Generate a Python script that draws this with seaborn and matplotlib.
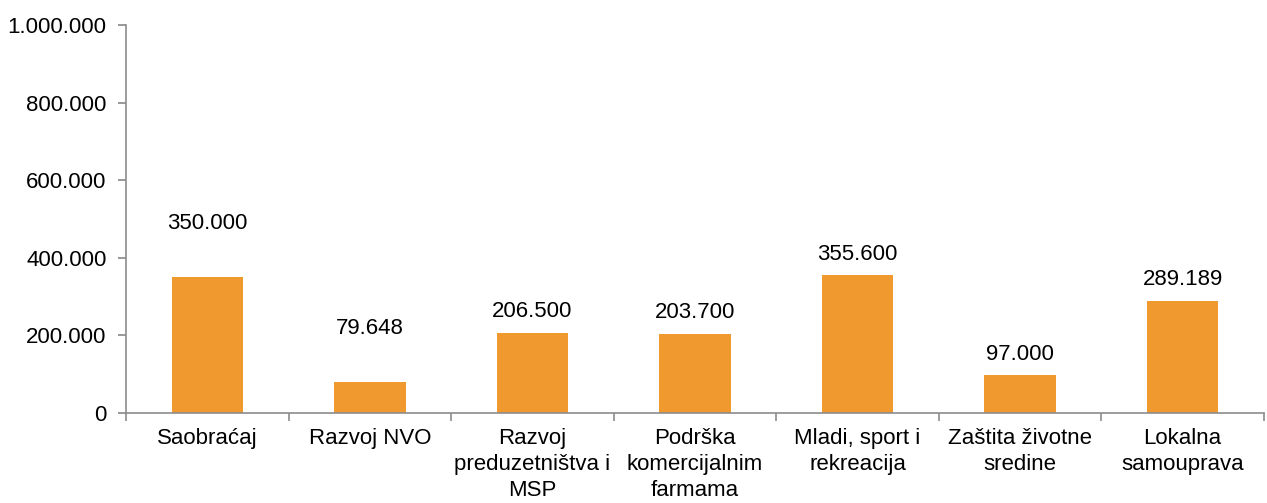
import matplotlib
matplotlib.use("Agg")
import matplotlib.pyplot as plt
import matplotlib.ticker as mticker
import seaborn as sns
import pandas as pd

categories = ["Saobraćaj", "Razvoj NVO", "Razvoj\npreduzetništva i\nMSP", "Podrška\nkomercijalnim\nfarmama",
              "Mladi, sport i\nrekreacija", "Zaštita životne\nsredine", "Lokalna\nsamouprava"]
values = [350000, 79648, 206500, 203700, 355600, 97000, 289189]
value_labels = ["350.000", "79.648", "206.500", "203.700", "355.600", "97.000", "289.189"]

sns.set_theme(style="white")
plt.rcParams['font.family'] = ['Liberation Sans', 'DejaVu Sans']

FS = 16
df = pd.DataFrame({"cat": categories, "val": values})
fig = plt.figure(figsize=(12.67, 5.03), dpi=100)
ax = fig.add_axes([0.0995, 0.179, 0.898, 0.771])
sns.barplot(data=df, x="cat", y="val", color="#F0992E", width=0.44, saturation=1, ax=ax, edgecolor="none")

ax.set_ylim(0, 1000000)
ax.set_xlim(-0.5, len(categories) - 0.5)
ax.set_yticks([0, 200000, 400000, 600000, 800000, 1000000])
ax.yaxis.set_major_formatter(mticker.FuncFormatter(lambda v, p: f"{int(v):,}".replace(",", ".")))
ax.set_xlabel("")
ax.set_ylabel("")
for s in ["top", "right"]:
    ax.spines[s].set_visible(False)
for s in ["left", "bottom"]:
    ax.spines[s].set_color("#8c8c8c")
    ax.spines[s].set_linewidth(1.2)

ax.tick_params(axis="y", which="major", left=True, length=6, color="#8c8c8c", labelsize=FS, pad=8, labelcolor="black")
ax.set_xticks(range(len(categories)))
ax.set_xticklabels(categories, fontsize=FS, linespacing=1.3)
ax.tick_params(axis="x", which="major", length=0, pad=11, labelcolor="black")
ax.set_xticks([i - 0.5 for i in range(len(categories) + 1)], minor=True)
ax.tick_params(axis="x", which="minor", bottom=True, length=6, color="#8c8c8c", width=1.2)
for lbl in ax.get_xticklabels():
    lbl.set_verticalalignment("top")

offsets = [54, 54, 21, 21, 21, 21, 21]
for i, (v, t) in enumerate(zip(values, value_labels)):
    ax.annotate(t, (i, v), xytext=(0, offsets[i] * 0.72), textcoords="offset points",
                ha="center", va="center", fontsize=FS, color="black")

fig.savefig("out.png", dpi=100)
